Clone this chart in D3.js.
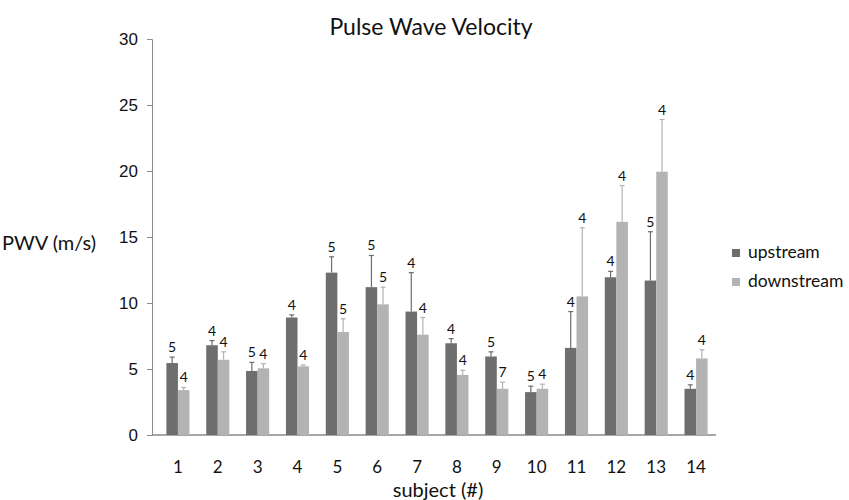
<!DOCTYPE html>
<html>
<head>
<meta charset="utf-8">
<script src="https://cdn.jsdelivr.net/npm/d3@7"></script>
<style>
  body { margin: 0; background: #fff; }
  svg { font-family: Lato, "Open Sans", sans-serif; }
</style>
</head>
<body>
<svg id="chart" width="849" height="500"></svg>
<script>
// subjects along the x axis
const subjects = ["1", "2", "3", "4", "5", "6", "7", "8", "9", "10", "11", "12", "13", "14"];

// mean PWV (m/s) per subject
const upstream   = [5.45, 6.8, 4.85, 8.9, 12.3, 11.2, 9.35, 6.95, 5.95, 3.25, 6.6, 11.95, 11.7, 3.5];
const downstream = [3.4, 5.7, 5.05, 5.2, 7.8, 9.9, 7.6, 4.55, 3.5, 3.5, 10.5, 16.15, 19.95, 5.8];

// top of the error bar (mean + sd)
const upstreamErr   = [5.9, 7.15, 5.5, 9.1, 13.5, 13.6, 12.3, 7.3, 6.3, 3.7, 9.35, 12.4, 15.4, 3.8];
const downstreamErr = [3.6, 6.3, 5.4, 5.3, 8.8, 11.2, 8.9, 4.9, 4.0, 3.85, 15.7, 18.9, 23.9, 6.45];

// number of measurements shown above each bar
const upstreamN   = [5, 4, 5, 4, 5, 5, 4, 4, 5, 5, 4, 4, 5, 4];
const downstreamN = [4, 4, 4, 4, 5, 5, 4, 4, 7, 4, 4, 4, 4, 4];

const yTicks = [0, 5, 10, 15, 20, 25, 30];
const seriesNames = ["upstream", "downstream"];
const colours = ["#6e6e6e", "#b3b3b3"];

const svg = d3.select("#chart");

const x = d3.scaleBand().domain(subjects).range([158, 716]).paddingInner(0.42).paddingOuter(0.21);
const xSub = d3.scaleBand().domain(seriesNames).range([0, x.bandwidth()]);
const y = d3.scaleLinear().domain([0, 30]).range([435, 39]);

// y axis
const yAxis = svg.append("g")
  .attr("transform", "translate(152,0)")
  .call(d3.axisLeft(y).tickValues(yTicks).tickSize(5).tickPadding(9));
yAxis.select(".domain").attr("stroke", "#8a8a8a");
yAxis.selectAll(".tick line").attr("stroke", "#8a8a8a");
yAxis.selectAll(".tick text").attr("font-size", 17).attr("fill", "#111");

// x axis line only
svg.append("line")
  .attr("x1", 152).attr("x2", 716)
  .attr("y1", y(0)).attr("y2", y(0))
  .attr("stroke", "#8a8a8a").attr("stroke-width", 1.5);

svg.append("g").selectAll("text")
  .data(subjects)
  .join("text")
  .attr("x", d => x(d) + x.bandwidth() / 2)
  .attr("y", 473)
  .attr("text-anchor", "middle")
  .attr("font-size", 17)
  .attr("fill", "#111")
  .text(d => d);

// build rows for each series
const series = [
  { name: "upstream", values: upstream, err: upstreamErr, n: upstreamN },
  { name: "downstream", values: downstream, err: downstreamErr, n: downstreamN }
];

series.forEach((s, si) => {
  const rows = subjects.map((d, i) => ({ subject: d, value: s.values[i], err: s.err[i], n: s.n[i] }));
  const g = svg.append("g");
  const bx = d => x(d.subject) + xSub(s.name);
  const cx = d => bx(d) + xSub.bandwidth() / 2;

  g.selectAll("rect")
    .data(rows)
    .join("rect")
    .attr("x", bx)
    .attr("y", d => y(d.value))
    .attr("width", xSub.bandwidth())
    .attr("height", d => y(0) - y(d.value))
    .attr("fill", colours[si]);

  // error bars (upper half only)
  g.selectAll("line.err")
    .data(rows)
    .join("line")
    .attr("class", "err")
    .attr("x1", cx).attr("x2", cx)
    .attr("y1", d => y(d.value)).attr("y2", d => y(d.err))
    .attr("stroke", colours[si]).attr("stroke-width", 1.2);

  g.selectAll("line.cap")
    .data(rows)
    .join("line")
    .attr("class", "cap")
    .attr("x1", d => cx(d) - 2.5).attr("x2", d => cx(d) + 2.5)
    .attr("y1", d => y(d.err)).attr("y2", d => y(d.err))
    .attr("stroke", colours[si]).attr("stroke-width", 1.2);

  g.selectAll("text")
    .data(rows)
    .join("text")
    .attr("x", cx)
    .attr("y", d => y(d.err) - 5)
    .attr("text-anchor", "middle")
    .attr("font-size", 14)
    .attr("fill", "#111")
    .text(d => d.n);
});

// title and axis titles
svg.append("text")
  .attr("x", 431).attr("y", 35)
  .attr("text-anchor", "middle")
  .attr("font-size", 23)
  .attr("fill", "#111")
  .text("Pulse Wave Velocity");

svg.append("text")
  .attr("x", 2).attr("y", 250)
  .attr("font-size", 20)
  .attr("fill", "#111")
  .text("PWV (m/s)");

svg.append("text")
  .attr("x", 438).attr("y", 497)
  .attr("text-anchor", "middle")
  .attr("font-size", 20)
  .attr("fill", "#111")
  .text("subject (#)");

// legend
const legend = svg.append("g").attr("transform", "translate(732,249)");
seriesNames.forEach((name, i) => {
  legend.append("rect")
    .attr("x", 0).attr("y", i * 29)
    .attr("width", 8).attr("height", 8)
    .attr("fill", colours[i]);
  legend.append("text")
    .attr("x", 16).attr("y", i * 29 + 9)
    .attr("font-size", 17.5)
    .attr("fill", "#111")
    .text(name);
});
</script>
</body>
</html>
